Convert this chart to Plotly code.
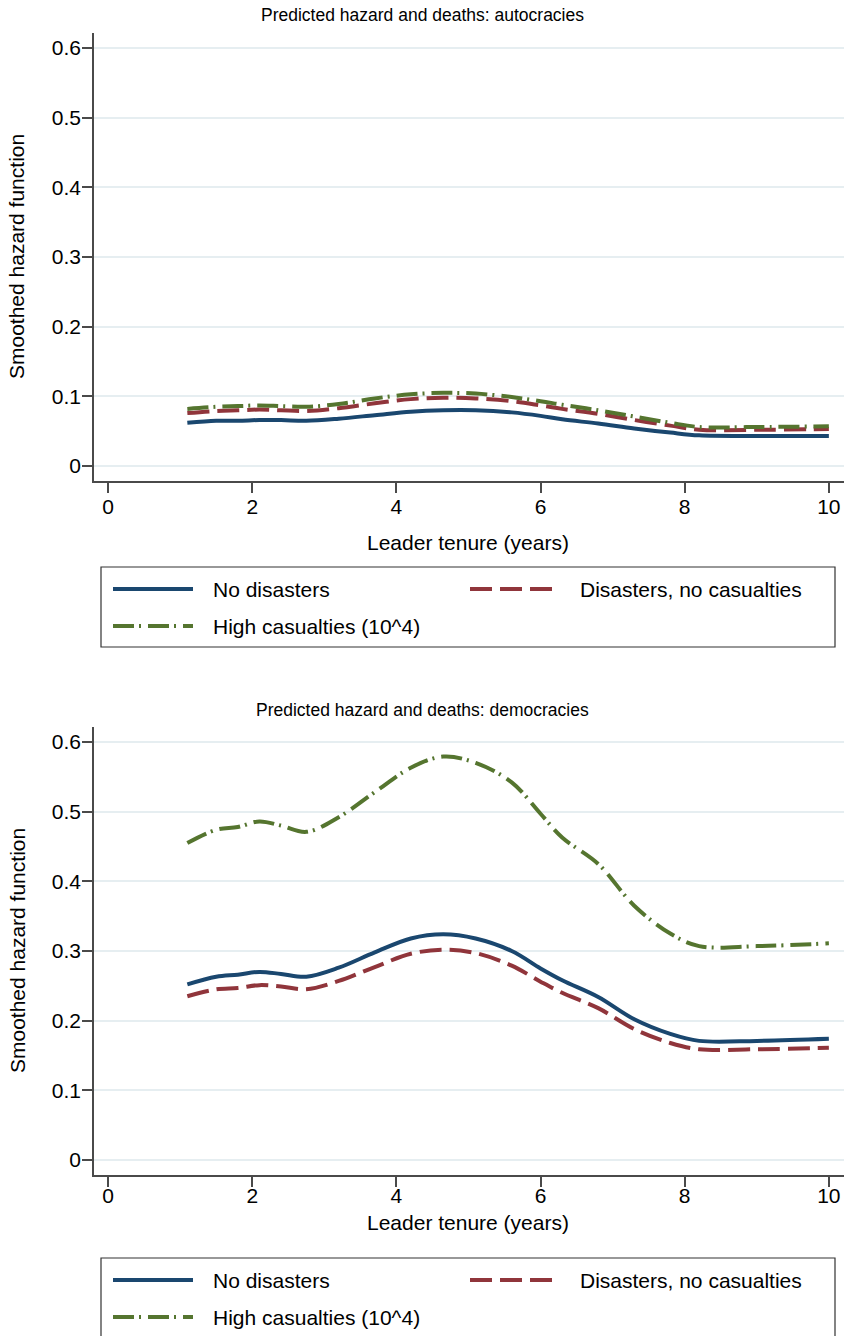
import plotly.graph_objects as go

W, H = 844, 1336

# ---------------- data ----------------
tenure = [1.1, 1.5, 1.8, 2.1, 2.4, 2.75, 3.2, 3.7, 4.2, 4.65, 5.1, 5.6, 6.0, 6.3, 6.8, 7.3, 7.8, 8.2, 9.0, 10.0]

auto_no_disasters = [0.062, 0.065, 0.065, 0.066, 0.066, 0.065, 0.068, 0.073, 0.078, 0.080, 0.080, 0.077,
                     0.072, 0.067, 0.061, 0.054, 0.048, 0.044, 0.043, 0.043]
auto_disasters_no_cas = [0.076, 0.079, 0.080, 0.081, 0.080, 0.079, 0.083, 0.090, 0.096, 0.098, 0.097, 0.093,
                         0.087, 0.082, 0.075, 0.066, 0.058, 0.052, 0.052, 0.053]
auto_high_cas = [0.082, 0.085, 0.086, 0.087, 0.086, 0.085, 0.089, 0.097, 0.103, 0.105, 0.104, 0.099,
                 0.093, 0.088, 0.080, 0.071, 0.062, 0.056, 0.056, 0.057]

demo_no_disasters = [0.252, 0.263, 0.266, 0.270, 0.267, 0.263, 0.276, 0.298, 0.318, 0.324, 0.318, 0.300,
                     0.275, 0.258, 0.234, 0.202, 0.181, 0.171, 0.171, 0.174]
demo_disasters_no_cas = [0.235, 0.245, 0.247, 0.251, 0.249, 0.245, 0.257, 0.277, 0.296, 0.302, 0.297, 0.279,
                         0.256, 0.240, 0.218, 0.188, 0.168, 0.159, 0.159, 0.161]
demo_high_cas = [0.455, 0.474, 0.478, 0.486, 0.480, 0.471, 0.492, 0.528, 0.563, 0.579, 0.570, 0.542,
                 0.497, 0.463, 0.425, 0.365, 0.325, 0.307, 0.307, 0.311]

series_names = ["No disasters", "Disasters, no casualties", "High casualties (10^4)"]
panel_titles = ["Predicted hazard and deaths: autocracies", "Predicted hazard and deaths: democracies"]
x_title = "Leader tenure (years)"
y_title = "Smoothed hazard function"
x_ticks = [0, 2, 4, 6, 8, 10]
y_ticks = [0, 0.1, 0.2, 0.3, 0.4, 0.5, 0.6]

# ---------------- styling ----------------
colors = ["#1a476f", "#90353b", "#55752f"]
dashes = ["solid", "22px,8px", "21px,5px,2px,7px"]
FONT = "Liberation Sans, Arial, Helvetica, sans-serif"
FS = 21
AX = "#4a4a4a"
GRID = "#e6eef1"


def px(x):
    return x / W


def py(y):
    return 1 - y / H


panels = [
    dict(data=[auto_no_disasters, auto_disasters_no_cas, auto_high_cas],
         top=33, bottom=481, title_y=15, xlab_y=542, leg_top=567, standoff=-4),
    dict(data=[demo_no_disasters, demo_disasters_no_cas, demo_high_cas],
         top=727, bottom=1175, title_y=710, xlab_y=1222, leg_top=1258, standoff=-9),
]

fig = go.Figure()
shapes = []
annotations = []
layout_axes = {}

for i, p in enumerate(panels):
    sfx = "" if i == 0 else str(i + 1)
    for vals, name, col, dash in zip(p["data"], series_names, colors, dashes):
        fig.add_trace(go.Scatter(
            x=tenure, y=vals, name=name, mode="lines",
            line=dict(color=col, width=4, dash=dash, shape="spline", smoothing=1.0),
            xaxis="x" + sfx, yaxis="y" + sfx, showlegend=False,
        ))
    layout_axes["xaxis" + sfx] = dict(
        domain=[px(94), 1.0], range=[-0.195, 10.21], tickvals=x_ticks,
        ticks="outside", ticklen=10, tickwidth=1.5, tickcolor=AX,
        showline=True, linecolor=AX, linewidth=1.5, showgrid=False, zeroline=False,
        tickfont=dict(family=FONT, size=FS, color="black"), ticklabelstandoff=p["standoff"],
        anchor="y" + sfx, fixedrange=True,
    )
    layout_axes["yaxis" + sfx] = dict(
        domain=[py(p["bottom"]), py(p["top"])], range=[-0.0215, 0.6215], tickvals=y_ticks,
        ticktext=[("%g" % v) for v in y_ticks],
        ticks="outside", ticklen=10, tickwidth=1.5, tickcolor=AX,
        showline=True, linecolor=AX, linewidth=1.5, showgrid=True, gridcolor=GRID, gridwidth=1.5,
        zeroline=False, tickfont=dict(family=FONT, size=FS, color="black"), ticklabelstandoff=-3,
        anchor="x" + sfx, fixedrange=True,
    )
    # panel title
    annotations.append(dict(text=panel_titles[i], x=0.5, y=py(p["title_y"]), xref="paper", yref="paper",
                            xanchor="center", yanchor="middle", showarrow=False,
                            font=dict(family=FONT, size=17.5, color="black")))
    # axis titles
    annotations.append(dict(text=x_title, x=px(468), y=py(p["xlab_y"]), xref="paper", yref="paper",
                            xanchor="center", yanchor="middle", showarrow=False,
                            font=dict(family=FONT, size=FS, color="black")))
    annotations.append(dict(text=y_title, x=px(17), y=py((p["top"] + p["bottom"]) / 2), xref="paper",
                            yref="paper", xanchor="center", yanchor="middle", showarrow=False,
                            textangle=-90, font=dict(family=FONT, size=FS, color="black")))
    # legend box
    lt = p["leg_top"]
    shapes.append(dict(type="rect", xref="paper", yref="paper", x0=px(101), x1=px(835),
                       y0=py(lt), y1=py(lt + 80), line=dict(color="#333333", width=1.2),
                       fillcolor="rgba(0,0,0,0)"))
    entries = [(113, 193, 211, lt + 22), (470, 553, 578, lt + 22), (113, 193, 211, lt + 59)]
    for (sx0, sx1, tx, ty), name, col, dash in zip(entries, series_names, colors, dashes):
        shapes.append(dict(type="line", xref="paper", yref="paper", x0=px(sx0), x1=px(sx1),
                           y0=py(ty), y1=py(ty), line=dict(color=col, width=4, dash=dash)))
        annotations.append(dict(text=name, x=px(tx), y=py(ty), xref="paper", yref="paper",
                                xanchor="left", yanchor="middle", showarrow=False,
                                font=dict(family=FONT, size=FS, color="black")))

fig.update_layout(
    width=W, height=H, margin=dict(l=0, r=0, t=0, b=0),
    paper_bgcolor="white", plot_bgcolor="white",
    shapes=shapes, annotations=annotations, showlegend=False,
    **layout_axes,
)

fig.write_html(
    "out.html",
    config={"displayModeBar": False},
    post_script="document.body.style.margin='0';document.body.style.padding='0';"
                "document.body.style.overflow='hidden';",
)
